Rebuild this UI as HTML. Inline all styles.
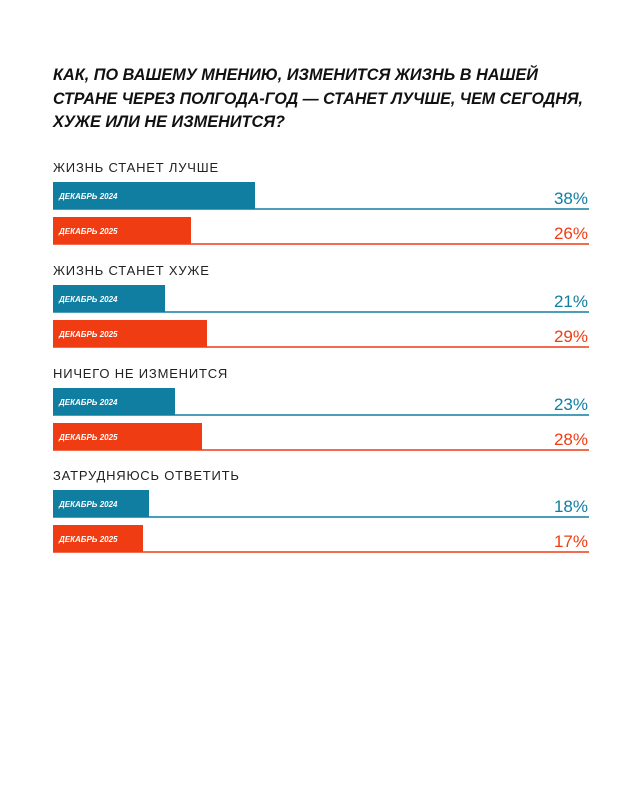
<!DOCTYPE html>
<html><head><meta charset="utf-8"><style>
html,body{margin:0;padding:0;background:#fff;}
svg{display:block}
</style></head><body>
<svg width="640" height="800" xmlns="http://www.w3.org/2000/svg" font-family="Liberation Sans, sans-serif">
<rect width="640" height="800" fill="#fff"/>
<g font-weight="bold" font-style="italic" font-size="17" fill="#111">
<text x="53" y="80" textLength="485" lengthAdjust="spacingAndGlyphs">КАК, ПО ВАШЕМУ МНЕНИЮ, ИЗМЕНИТСЯ ЖИЗНЬ В НАШЕЙ</text>
<text x="53" y="104" textLength="530" lengthAdjust="spacingAndGlyphs">СТРАНЕ ЧЕРЕЗ ПОЛГОДА-ГОД — СТАНЕТ ЛУЧШЕ, ЧЕМ СЕГОДНЯ,</text>
<text x="53" y="127" textLength="232" lengthAdjust="spacingAndGlyphs">ХУЖЕ ИЛИ НЕ ИЗМЕНИТСЯ?</text>
</g>
<g font-size="13" fill="#222" letter-spacing="0.8">
<text x="53" y="172">ЖИЗНЬ СТАНЕТ ЛУЧШЕ</text>
<text x="53" y="275">ЖИЗНЬ СТАНЕТ ХУЖЕ</text>
<text x="53" y="378">НИЧЕГО НЕ ИЗМЕНИТСЯ</text>
<text x="53" y="480">ЗАТРУДНЯЮСЬ ОТВЕТИТЬ</text>
</g>
<!-- groups -->
<g>
<rect x="53" y="182" width="202" height="27" fill="#0f7ea0"/><line x1="53" y1="209" x2="589" y2="209" stroke="#0f7ea0" stroke-width="1.5"/>
<rect x="53" y="217" width="138" height="27" fill="#f03c12"/><line x1="53" y1="244" x2="589" y2="244" stroke="#f03c12" stroke-width="1.5"/>
<rect x="53" y="285" width="112" height="27" fill="#0f7ea0"/><line x1="53" y1="312" x2="589" y2="312" stroke="#0f7ea0" stroke-width="1.5"/>
<rect x="53" y="320" width="154" height="27" fill="#f03c12"/><line x1="53" y1="347" x2="589" y2="347" stroke="#f03c12" stroke-width="1.5"/>
<rect x="53" y="388" width="122" height="27" fill="#0f7ea0"/><line x1="53" y1="415" x2="589" y2="415" stroke="#0f7ea0" stroke-width="1.5"/>
<rect x="53" y="423" width="149" height="27" fill="#f03c12"/><line x1="53" y1="450" x2="589" y2="450" stroke="#f03c12" stroke-width="1.5"/>
<rect x="53" y="490" width="96" height="27" fill="#0f7ea0"/><line x1="53" y1="517" x2="589" y2="517" stroke="#0f7ea0" stroke-width="1.5"/>
<rect x="53" y="525" width="90" height="27" fill="#f03c12"/><line x1="53" y1="552" x2="589" y2="552" stroke="#f03c12" stroke-width="1.5"/>
</g>
<g font-size="8" font-weight="bold" font-style="italic" fill="#fff">
<text x="59" y="199">ДЕКАБРЬ 2024</text><text x="59" y="234">ДЕКАБРЬ 2025</text>
<text x="59" y="302">ДЕКАБРЬ 2024</text><text x="59" y="337">ДЕКАБРЬ 2025</text>
<text x="59" y="405">ДЕКАБРЬ 2024</text><text x="59" y="440">ДЕКАБРЬ 2025</text>
<text x="59" y="507">ДЕКАБРЬ 2024</text><text x="59" y="542">ДЕКАБРЬ 2025</text>
</g>
<g font-size="17" text-anchor="end">
<text x="588" y="204" fill="#0f7ea0">38%</text><text x="588" y="239" fill="#f03c12">26%</text>
<text x="588" y="307" fill="#0f7ea0">21%</text><text x="588" y="342" fill="#f03c12">29%</text>
<text x="588" y="410" fill="#0f7ea0">23%</text><text x="588" y="445" fill="#f03c12">28%</text>
<text x="588" y="512" fill="#0f7ea0">18%</text><text x="588" y="547" fill="#f03c12">17%</text>
</g>
</svg>
</body></html>
